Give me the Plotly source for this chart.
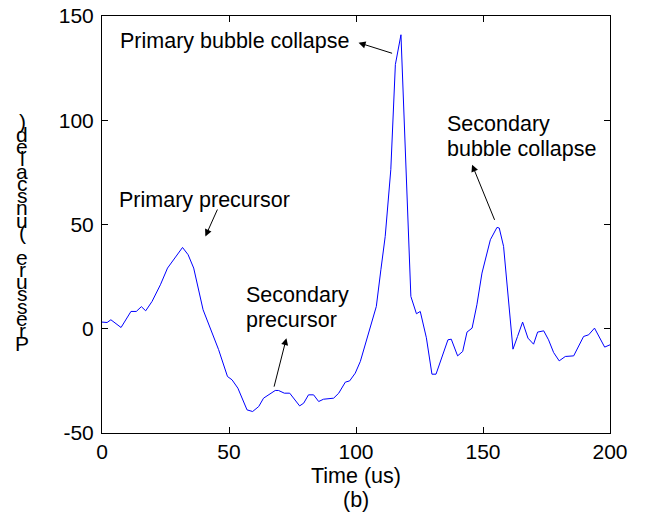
import plotly.graph_objects as go

# Data
time_us = [0, 2, 3.5, 7.5, 11.4, 13.5, 15.5, 17.2, 19.7, 23, 25.8, 28.9, 31.7, 33.9, 36.1,
           39.8, 42, 45.9, 49.4, 51.2, 53.5, 57.1, 59.3, 61.7, 63.6, 66, 68.2, 69.5, 71.8,
           73.9, 77.8, 79.4, 81.3, 83.3, 85.3, 87.2, 91.2, 93.2, 95.8, 97.5, 99.7, 101.7,
           103.9, 106.2, 108, 109.8, 111.5, 113.7, 115.5, 117.7, 121.6, 123.8, 125.3, 127.7,
           129.9, 131.5, 133.8, 136.2, 137.5, 140, 142, 143.7, 145.7, 147.6, 149.6, 152.9,
           155.5, 156.4, 158.1, 161.8, 163.6, 165.6, 167.7, 169.9, 171.5, 173.9, 175.8,
           177.8, 180, 182.4, 185.7, 189.6, 191.6, 193.9, 197.9, 200]
pressure = [3.2, 3, 4.3, 0.6, 8.3, 8.3, 10.6, 8.6, 13.1, 21.1, 29.1, 34.4, 39, 35.5, 29.1,
            9.1, 1.9, -10, -22.9, -24.5, -28.5, -38.9, -39.7, -37.3, -33.3, -31.2, -29.6,
            -29.6, -30.9, -30.9, -37, -35.7, -31.7, -31.7, -34.9, -33.8, -33.3, -30.9, -25.6,
            -25, -21.3, -15.7, -6.9, 3, 10.7, 28.3, 44.3, 76.3, 126.7, 141, 15.5, 7.2, 8.3,
            -4.3, -21.8, -21.8, -13.3, -5.3, -5, -13, -10.9, -1.6, 0.3, 11.5, 26.7, 42.7,
            48.6, 48.3, 39.5, -9.8, -3.7, 3.2, -4.5, -7.4, -1.6, -1, -5.3, -11.4, -15.4,
            -13.3, -13, -3.7, -2.9, 0.3, -8.8, -7.7]

x_ticks = [0, 50, 100, 150, 200]
y_ticks = [-50, 0, 50, 100, 150]

# Text labels (left x, centre y in data units) and arrows (tail -> head)
labels = [
    ("Primary bubble collapse", 6.4, 137.8),
    ("Primary precursor", 6.1, 61.9),
    ("Secondary", 56, 16.3),
    ("precursor", 56, 4.3),
    ("Secondary", 134.9, 98.4),
    ("bubble collapse", 134.9, 86.4),
]
arrows = [
    ((114.8, 131.9), (101.0, 137.2)),
    ((45.7, 57.9), (40.7, 44.3)),
    ((67.6, -28.5), (72.6, -4.5)),
    ((154.8, 51.5), (145.7, 78.7)),
]
ylabel = "Pressure (unscaled)"
xlabel = "Time (us)"
panel = "(b)"

FONT = "Liberation Sans, Arial, sans-serif"
W, H = 646, 524
L, R, T, B = 102, 36, 16, 91

fig = go.Figure()
fig.add_trace(go.Scatter(x=time_us, y=pressure, mode="lines",
                         line=dict(color="#0000ff", width=1), showlegend=False))

ann = []
for txt, x, y in labels:
    ann.append(dict(text=txt, x=x, y=y, xref="x", yref="y", xanchor="left",
                    yanchor="middle", showarrow=False,
                    font=dict(family=FONT, size=21.5, color="black")))
for (tx, ty), (hx, hy) in arrows:
    ann.append(dict(text="", x=hx, y=hy, xref="x", yref="y", ax=tx, ay=ty,
                    axref="x", ayref="y", showarrow=True, arrowhead=2,
                    arrowsize=1.4, arrowwidth=1, arrowcolor="black", standoff=0))

# Stacked y-axis label characters (bottom to top)
ph = H - T - B
pw = W - L - R
for i, ch in enumerate(ylabel):
    py = 343 - i * 12.28
    ann.append(dict(text=ch, x=(22 - L) / pw, y=(H - B - py) / ph, xref="paper",
                    yref="paper", xanchor="center", yanchor="middle", showarrow=False,
                    font=dict(family=FONT, size=21, color="black")))

ann.append(dict(text=xlabel, x=(356 - L) / pw, y=(H - B - 476) / ph, xref="paper",
                yref="paper", xanchor="center", yanchor="middle", showarrow=False,
                font=dict(family=FONT, size=21.5, color="black")))
ann.append(dict(text=panel, x=(356 - L) / pw, y=(H - B - 500) / ph, xref="paper",
                yref="paper", xanchor="center", yanchor="middle", showarrow=False,
                font=dict(family=FONT, size=21.5, color="black")))

fig.update_layout(
    template="none",
    width=W, height=H,
    margin=dict(l=L, r=R, t=T, b=B, pad=0, autoexpand=False),
    paper_bgcolor="white", plot_bgcolor="white",
    annotations=ann,
    font=dict(family=FONT, size=21, color="black"),
)
axis_common = dict(showgrid=False, zeroline=False, showline=True, linecolor="black",
                   linewidth=1, mirror="ticks", ticks="inside", ticklen=6,
                   tickcolor="black", tickwidth=1, automargin=False,
                   tickfont=dict(family=FONT, size=21, color="black"))
fig.update_xaxes(range=[0, 200], tickvals=x_ticks, ticktext=[str(v) for v in x_ticks],
                 **axis_common)
fig.update_yaxes(range=[-50, 150], tickvals=y_ticks, ticktext=[str(v) for v in y_ticks],
                 ticklabelstandoff=3, **axis_common)

fig.write_html("out.html")
